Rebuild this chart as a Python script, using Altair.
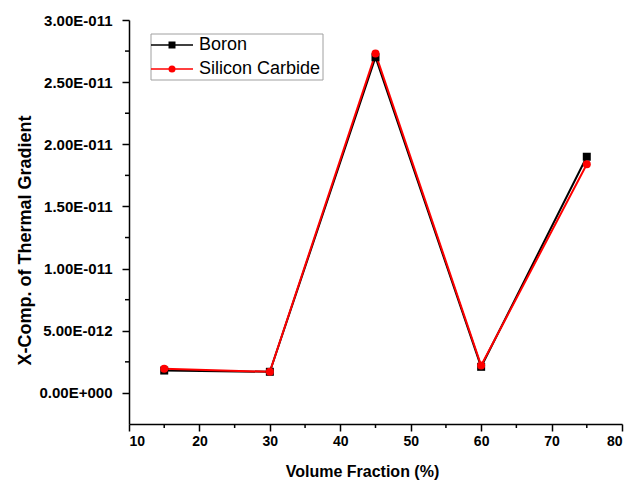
import altair as alt
import pandas as pd

# Volume fraction (%) and x-component of the thermal gradient for each filler
volume_fraction = [15, 30, 45, 60, 75]
boron = [1.80e-12, 1.70e-12, 2.70e-11, 2.10e-12, 1.90e-11]
silicon_carbide = [1.95e-12, 1.70e-12, 2.73e-11, 2.20e-12, 1.84e-11]

series_names = ["Boron", "Silicon Carbide"]
series_colors = ["#000000", "#ff0000"]
series_shapes = ["square", "circle"]

x_major = [10, 20, 30, 40, 50, 60, 70, 80]
x_minor = [15, 25, 35, 45, 55, 65, 75]
y_major = [0, 5e-12, 1e-11, 1.5e-11, 2e-11, 2.5e-11, 3e-11]
y_minor = [2.5e-12, 7.5e-12, 1.25e-11, 1.75e-11, 2.25e-11, 2.75e-11]

W, H = 493, 404
FONT = "Liberation Sans"

rows = []
for i, name in enumerate(series_names):
    vals = boron if i == 0 else silicon_carbide
    for xv, yv in zip(volume_fraction, vals):
        rows.append({"series": name, "vf": xv, "grad": yv})
df = pd.DataFrame(rows)

x_scale = alt.Scale(domain=[10, 80], nice=False, zero=False)
y_scale = alt.Scale(domain=[-2.5e-12, 3e-11], nice=False, zero=False)
color_scale = alt.Scale(domain=series_names, range=series_colors)

sci_label = (
    "datum.value == 0 ? '0.00E+000' : "
    "format(datum.value / pow(10, floor(log(datum.value) / LN10 + 1e-6)), '.2f') + 'E-' + "
    "format(-floor(log(datum.value) / LN10 + 1e-6), '03d')"
)

x_axis = alt.Axis(
    values=x_major, title="Volume Fraction (%)", grid=False,
    labelFont=FONT, labelFontSize=14, labelFontWeight="bold", labelColor="#000",
    labelPadding=3, tickSize=7, tickWidth=1.5, tickColor="#000",
    domainColor="#000", domainWidth=1.5,
    titleFont=FONT, titleFontSize=16, titleFontWeight="bold", titleColor="#000",
    titleX=233, titleY=47, titleBaseline="middle",
)
y_axis = alt.Axis(
    values=y_major, title="X-Comp. of Thermal Gradient", grid=False,
    labelExpr=sci_label,
    labelFont=FONT, labelFontSize=15, labelFontWeight="bold", labelColor="#000",
    labelPadding=10, tickSize=7, tickWidth=1.5, tickColor="#000",
    domainColor="#000", domainWidth=1.5,
    titleFont=FONT, titleFontSize=18, titleFontWeight="bold", titleColor="#000",
    titleX=-104, titleY=220, titleBaseline="middle",
)

base = alt.Chart(df)
X = alt.X("vf:Q", scale=x_scale)
Y = alt.Y("grad:Q", scale=y_scale)

lines = base.mark_line(strokeWidth=2).encode(
    x=alt.X("vf:Q", scale=x_scale, axis=x_axis),
    y=alt.Y("grad:Q", scale=y_scale, axis=y_axis),
    color=alt.Color("series:N", scale=color_scale, legend=None),
    order=alt.Order("vf:Q"),
)


def marker_layer(name, shape):
    return base.transform_filter(alt.datum.series == name).mark_point(
        filled=True, opacity=1, size=64, shape=shape
    ).encode(x=X, y=Y, color=alt.Color("series:N", scale=color_scale, legend=None))


marker_layers = [marker_layer(n, s) for n, s in zip(series_names, series_shapes)]

# minor ticks, shorter than the labelled ones
x_minor_ticks = alt.Chart(pd.DataFrame({"v": x_minor})).mark_rule(color="#000", strokeWidth=1.5).encode(
    x=alt.X("v:Q", scale=x_scale), y=alt.value(H), y2=alt.value(H + 4)
)
y_minor_ticks = alt.Chart(pd.DataFrame({"v": y_minor})).mark_rule(color="#000", strokeWidth=1.5).encode(
    y=alt.Y("v:Q", scale=y_scale), x=alt.value(0), x2=alt.value(-4)
)

# legend box in the upper left of the plot: line sample, marker and name per series
LEG_LEFT, LEG_RIGHT, LEG_TOP, LEG_BOTTOM = 22, 194, 14, 60
ROW0, ROW_STEP = 25, 24
SAMPLE_LEFT, SAMPLE_RIGHT, LABEL_X = 22, 64, 70

legend_box = alt.Chart(pd.DataFrame({"k": [0]})).mark_rect(
    fill="#ffffff", stroke="#a0a0a0", strokeWidth=1
).encode(
    x=alt.value(LEG_LEFT), x2=alt.value(LEG_RIGHT),
    y=alt.value(LEG_TOP), y2=alt.value(LEG_BOTTOM),
)

legend_layers = [legend_box]
for i, (name, color, shape) in enumerate(zip(series_names, series_colors, series_shapes)):
    row_y = ROW0 + i * ROW_STEP
    entry = alt.Chart(pd.DataFrame({"series": [name]}))
    legend_layers.append(
        entry.mark_rule(color=color, strokeWidth=1.5).encode(
            x=alt.value(SAMPLE_LEFT), x2=alt.value(SAMPLE_RIGHT), y=alt.value(row_y)
        )
    )
    legend_layers.append(
        entry.mark_point(filled=True, opacity=1, size=49, shape=shape, color=color).encode(
            x=alt.value((SAMPLE_LEFT + SAMPLE_RIGHT) / 2), y=alt.value(row_y)
        )
    )
    legend_layers.append(
        entry.mark_text(
            align="left", baseline="middle", font=FONT, fontSize=18, color="#000"
        ).encode(x=alt.value(LABEL_X), y=alt.value(row_y), text="series:N")
    )

chart = (
    alt.layer(lines, *marker_layers, x_minor_ticks, y_minor_ticks, *legend_layers)
    .properties(
        width=W, height=H,
        autosize=alt.AutoSizeParams(type="none"),
        padding={"left": 129, "top": 20, "right": 19, "bottom": 58},
        background="#ffffff",
    )
    .configure_view(stroke=None)
)

chart.save("out.html", embed_options={"renderer": "svg", "actions": False})
